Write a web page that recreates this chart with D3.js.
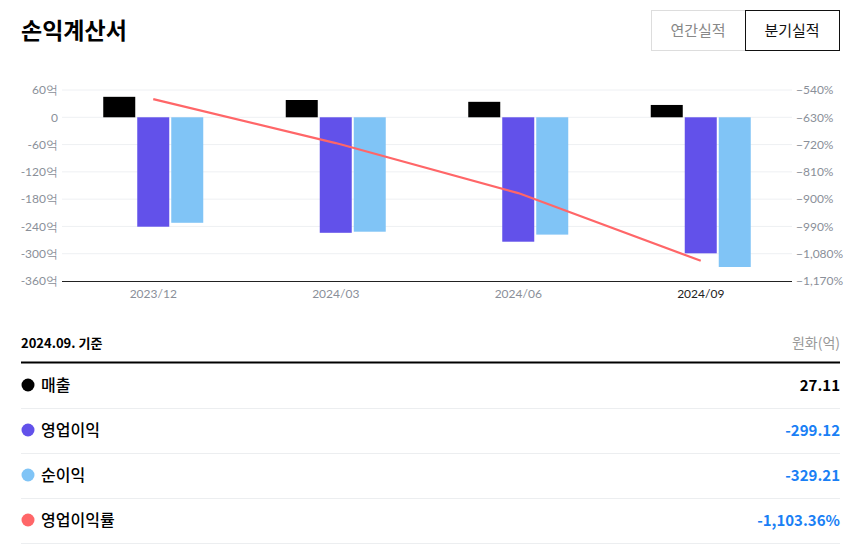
<!DOCTYPE html>
<html><head><meta charset="utf-8">
<script src="https://cdn.jsdelivr.net/npm/d3@7"></script>
<style>body{margin:0;background:#fff;font-family:"Noto Sans CJK KR","Noto Sans",sans-serif}</style>
</head><body><svg id="c" width="856" height="554"></svg>
<script>
const categories=["2023/12","2024/03","2024/06","2024/09"];
const revenue=[45,38,34,27.11];
const opIncome=[-240.6,-254,-273.6,-299.12];
const netIncome=[-232,-251.6,-258,-329.21];
const opMargin=[-570,-715,-880,-1103.36];
const leftTicks=[60,0,-60,-120,-180,-240,-300,-360];
const rightTicks=[-540,-630,-720,-810,-900,-990,-1080,-1170];
const tableRows=[["매출","27.11","#000"],["영업이익","-299.12","#6251ea"],["순이익","-329.21","#80c4f6"],["영업이익률","-1,103.36%","#ff6668"]];

const svg=d3.select("#c");
const F='"Noto Sans CJK KR","Noto Sans",sans-serif';
svg.append("text").attr("x",21).attr("y",39).attr("font-size",23).attr("font-weight",700).attr("font-family",F).text("손익계산서");
svg.append("rect").attr("x",651.5).attr("y",10.5).attr("width",94).attr("height",40).attr("fill","#fff").attr("stroke","#ddd");
svg.append("text").attr("x",698).attr("y",36).attr("text-anchor","middle").attr("font-size",15).attr("fill","#888").attr("font-family",F).text("연간실적");
svg.append("rect").attr("x",745.5).attr("y",10.5).attr("width",94).attr("height",40).attr("fill","#fff").attr("stroke","#111");
svg.append("text").attr("x",792).attr("y",36).attr("text-anchor","middle").attr("font-size",15).attr("fill","#111").attr("font-family",F).text("분기실적");

const x0=62,x1=792;
const x=d3.scaleBand().domain(categories).range([x0,x1]);
const y=d3.scaleLinear().domain([-360,60]).range([281,90]);
const yr=d3.scaleLinear().domain([-1170,-540]).range([281,90]);
const g=svg.append("g");
g.selectAll(".grid").data(leftTicks.filter(d=>d!==-360)).join("line").attr("x1",x0).attr("x2",x1)
 .attr("y1",d=>y(d)).attr("y2",d=>y(d)).attr("stroke","#eef0f3");
const la=d3.axisLeft(y).tickValues(leftTicks).tickSize(0).tickPadding(4).tickFormat(d=>d===0?"0":d+"억");
svg.append("g").attr("transform",`translate(${x0},0)`).call(la).call(a=>{a.select(".domain").remove();a.selectAll("text").attr("fill","#8a8f99").attr("font-size",12).attr("font-family","Lato, sans-serif")});
const ra=d3.axisRight(yr).tickValues(rightTicks).tickSize(0).tickPadding(4).tickFormat(d=>d3.format(",")(d)+"%");
svg.append("g").attr("transform",`translate(${x1},0)`).call(ra).call(a=>{a.select(".domain").remove();a.selectAll("text").attr("fill","#8a8f99").attr("font-size",12).attr("font-family","Lato, sans-serif")});
svg.append("line").attr("x1",x0).attr("x2",x1).attr("y1",281.5).attr("y2",281.5).attr("stroke","#222").attr("stroke-width",1.2);
const xa=d3.axisBottom(x).tickSize(0).tickPadding(8);
svg.append("g").attr("transform","translate(0,281)").call(xa).call(a=>{a.select(".domain").remove();a.selectAll("text").attr("font-size",12).attr("font-family","Lato, sans-serif").attr("fill",(d,i)=>i===3?"#222":"#8a8f99")});
const bw=32, c=d=>x(d)+x.bandwidth()/2;
const series=[[revenue,"#000",-1],[opIncome,"#6251ea",0],[netIncome,"#80c4f6",1]];
series.forEach(([vals,col,off])=>{
 g.selectAll(null).data(vals).join("rect").attr("x",(d,i)=>c(categories[i])+off*34-bw/2)
  .attr("width",bw).attr("y",d=>y(Math.max(0,d))).attr("height",d=>Math.abs(y(d)-y(0))).attr("fill",col);
});
svg.append("path").datum(opMargin).attr("fill","none").attr("stroke","#ff6668").attr("stroke-width",2.2)
 .attr("d",d3.line().x((d,i)=>c(categories[i])).y(d=>yr(d)));

svg.append("text").attr("x",21).attr("y",348).attr("font-size",13).attr("font-weight",700).attr("font-family",F).text("2024.09. 기준");
svg.append("text").attr("x",840).attr("y",348).attr("text-anchor","end").attr("font-size",14).attr("fill","#999").attr("font-family",F).text("원화(억)");
svg.append("line").attr("x1",21).attr("x2",840).attr("y1",362.5).attr("y2",362.5).attr("stroke","#000").attr("stroke-width",2);
tableRows.forEach((r,i)=>{
 const cy=385+i*45;
 svg.append("circle").attr("cx",28).attr("cy",cy).attr("r",6.5).attr("fill",r[2]);
 svg.append("text").attr("x",41).attr("y",cy+6).attr("font-size",16).attr("font-weight",500).attr("font-family",F).text(r[0]);
 svg.append("text").attr("x",840).attr("y",cy+6).attr("text-anchor","end").attr("font-size",15).attr("font-weight",700).attr("font-family",F)
  .attr("fill",r[1].startsWith("-")?"#1a7ff5":"#000").text(r[1]);
 svg.append("line").attr("x1",21).attr("x2",840).attr("y1",cy+23.5).attr("y2",cy+23.5).attr("stroke","#eceef0");
});
</script></body></html>
